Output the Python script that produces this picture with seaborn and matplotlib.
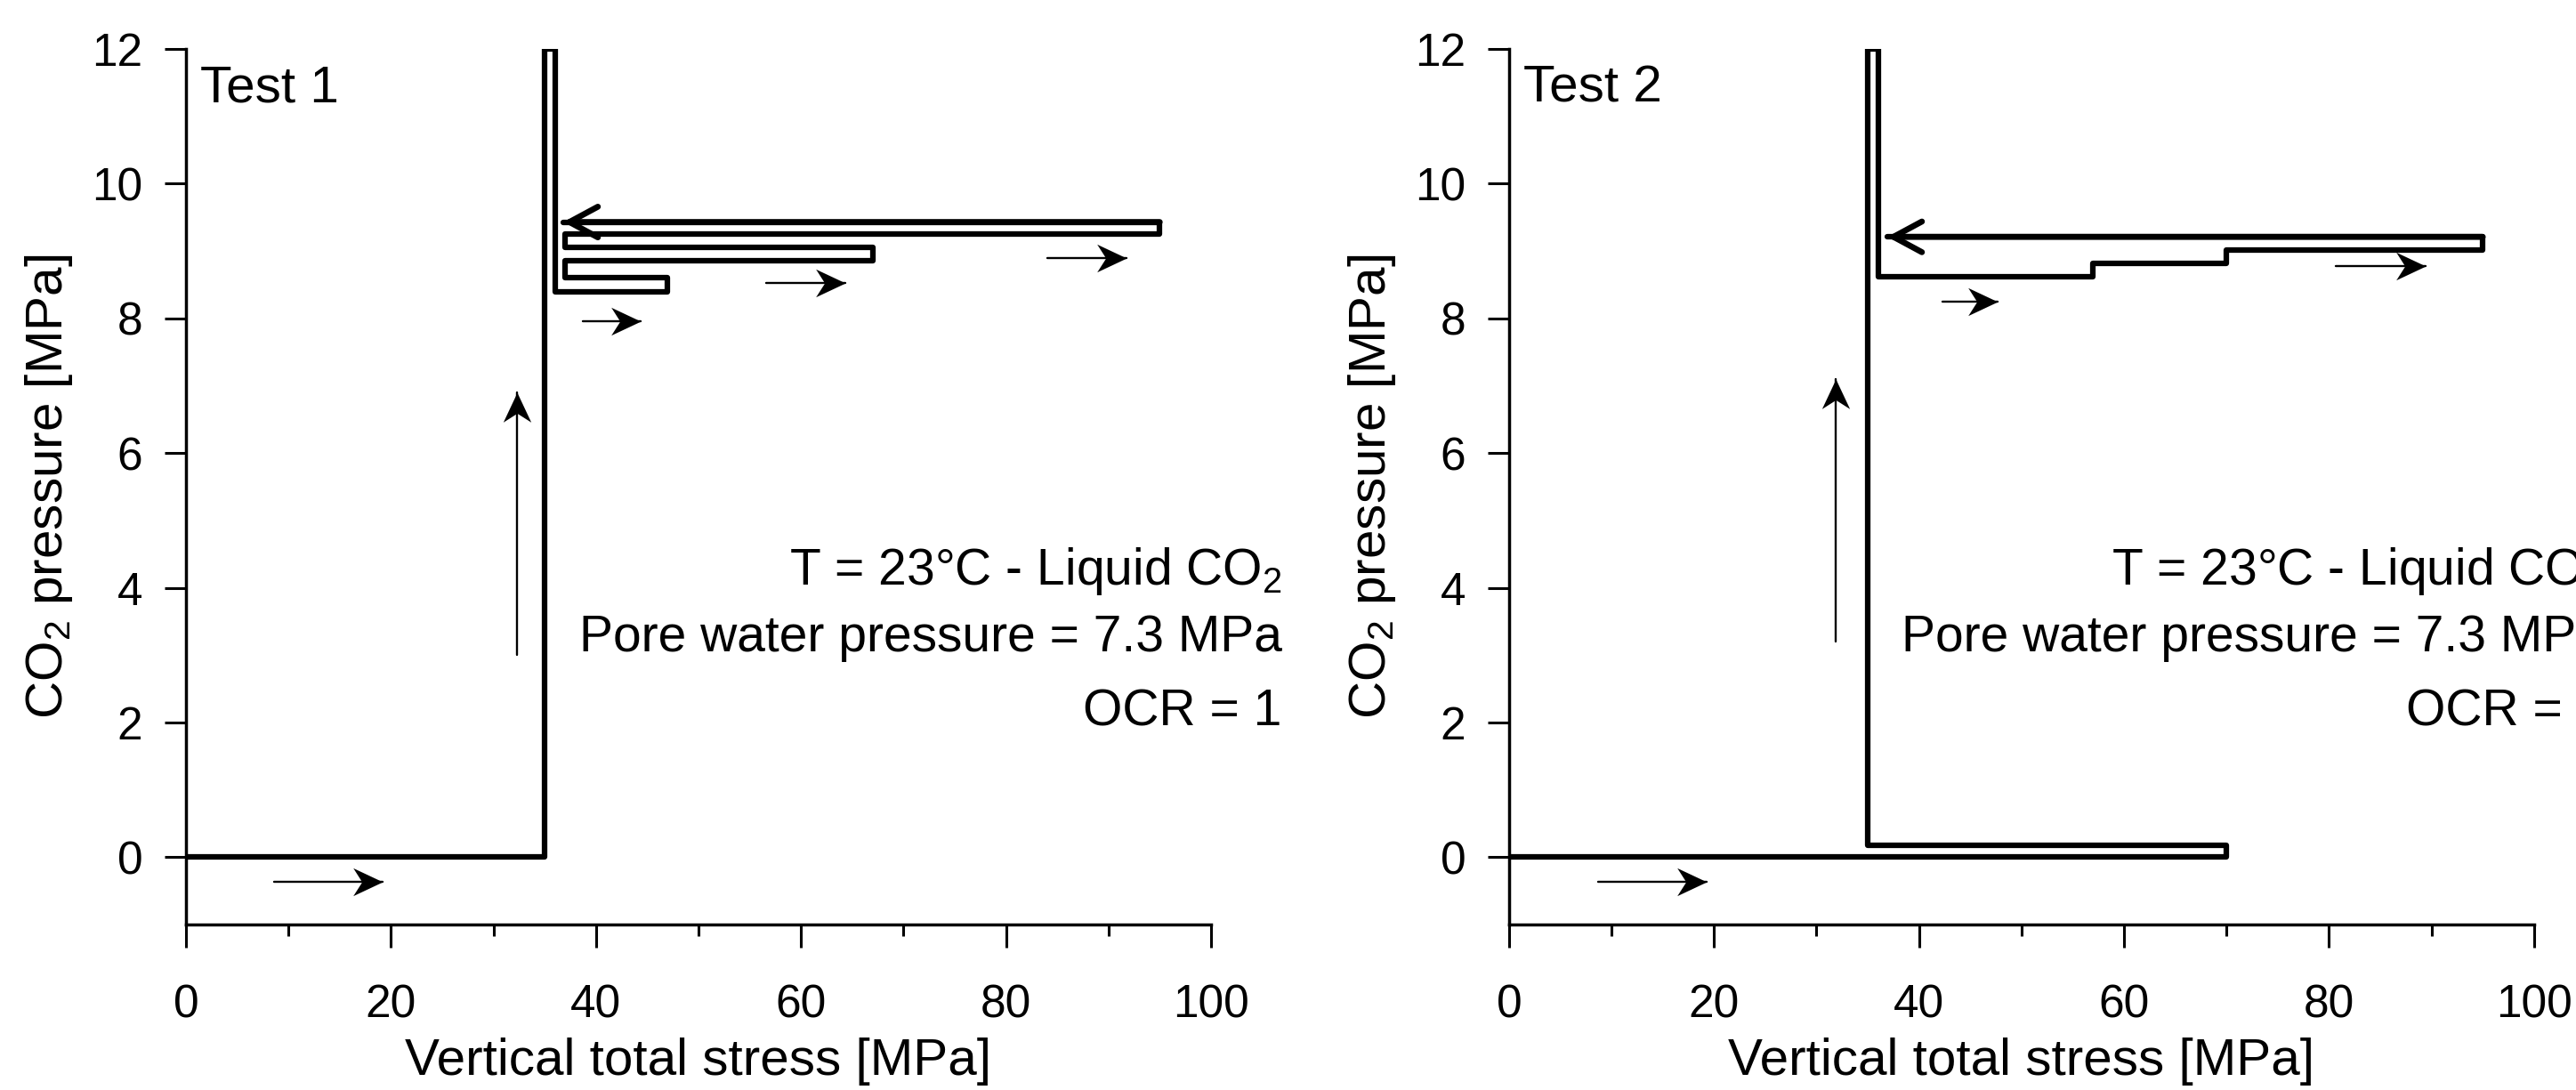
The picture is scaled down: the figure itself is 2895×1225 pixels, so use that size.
import numpy as np
import seaborn as sns
import matplotlib
matplotlib.use("Agg")
import matplotlib.pyplot as plt
from matplotlib.path import Path

# loading paths: vertical total stress [MPa] vs CO2 pressure [MPa]
stress_test1 = [0, 35, 35, 36, 36, 47, 47, 37, 37, 67, 67, 37, 37, 95, 95, 36.8]
pco2_test1 = [0, 0, 12, 12, 8.4, 8.4, 8.6, 8.6, 8.85, 8.85, 9.05, 9.05, 9.25, 9.25, 9.43, 9.43]

stress_test2 = [0, 70, 70, 35, 35, 36, 36, 57, 57, 70, 70, 95, 95, 36.9]
pco2_test2 = [0, 0, 0.17, 0.17, 12, 12, 8.62, 8.62, 8.81, 8.81, 9.01, 9.01, 9.21, 9.21]

# small direction arrows (x tail, y tail, x tip, y tip)
arrows_test1 = [(8.6, -0.36, 19.2, -0.36), (32.3, 3.0, 32.3, 6.9),
                (38.7, 7.96, 44.4, 7.96), (56.6, 8.52, 64.3, 8.52),
                (84.0, 8.89, 91.8, 8.89)]
arrows_test2 = [(8.7, -0.37, 19.3, -0.37), (31.9, 3.2, 31.9, 7.1),
                (42.3, 8.25, 47.7, 8.25), (80.7, 8.78, 89.4, 8.78)]

titles = ["Test 1", "Test 2"]
cond_lines = ["T = 23°C - Liquid CO$_2$", "Pore water pressure = 7.3 MPa"]
ocr_labels = ["OCR = 1", "OCR = 2"]

sns.set_style("ticks")
plt.rcParams['font.family'] = ['Liberation Sans', 'DejaVu Sans']
plt.rcParams['mathtext.fontset'] = 'custom'
plt.rcParams['mathtext.rm'] = 'Liberation Sans'
plt.rcParams['mathtext.it'] = 'Liberation Sans:italic'
plt.rcParams['mathtext.bf'] = 'Liberation Sans:bold'
plt.rcParams['axes.edgecolor'] = 'black'
plt.rcParams['axes.labelcolor'] = 'black'
plt.rcParams['text.color'] = 'black'
plt.rcParams['xtick.color'] = 'black'
plt.rcParams['ytick.color'] = 'black'


def head_marker(angle):
    # stealth-like arrow head, tip at origin, pointing along +x then rotated
    v = np.array([[0, 0], [-1, 0.47], [-0.7, 0], [-1, -0.47], [0, 0]])
    a = np.deg2rad(angle)
    rot = np.array([[np.cos(a), -np.sin(a)], [np.sin(a), np.cos(a)]])
    v = v @ rot.T
    return Path(v, [Path.MOVETO, Path.LINETO, Path.LINETO, Path.LINETO, Path.CLOSEPOLY])


fig = plt.figure(figsize=(28.95, 12.25), dpi=100)
ax1 = fig.add_axes([0.0722, 0.1518, 0.3979, 0.8033])
ax2 = fig.add_axes([0.5858, 0.1518, 0.3979, 0.8033])

panels = [(ax1, stress_test1, pco2_test1, arrows_test1),
          (ax2, stress_test2, pco2_test2, arrows_test2)]

for k, (ax, xs, ys, arrs) in enumerate(panels):
    sns.lineplot(x=xs, y=ys, sort=False, estimator=None, color='black', lw=4.5, ax=ax)
    # arrow head on last unloading segment
    ax.annotate('', xy=(xs[-1], ys[-1]), xytext=(xs[-2], ys[-2]),
                arrowprops=dict(arrowstyle='->,head_length=1.15,head_width=0.62',
                                lw=4.8, color='black', shrinkA=0, shrinkB=0,
                                mutation_scale=20))
    for x0, y0, x1, y1 in arrs:
        ax.plot([x0, x1], [y0, y1], color='black', lw=1.7)
        ang = 90 if x0 == x1 else 0
        ax.plot([x1], [y1], marker=head_marker(ang), ms=48, color='black', mew=0, ls='none')

    ax.set_xlim(0, 100)
    ax.set_ylim(-1, 12)
    ax.set_xticks(range(0, 101, 20))
    ax.set_xticks(range(10, 100, 20), minor=True)
    ax.set_yticks(range(0, 13, 2))
    sns.despine(ax=ax)
    for s in ['left', 'bottom']:
        ax.spines[s].set_linewidth(2.5)
    ax.tick_params(axis='x', which='major', length=19, width=2.2, pad=29, labelsize=37)
    ax.tick_params(axis='x', which='minor', length=9.5, width=2.2)
    ax.tick_params(axis='y', which='major', length=17, width=2.2, pad=18, labelsize=37)

    ax.set_xlabel("Vertical total stress [MPa]", fontsize=42, labelpad=8)
    ax.set_ylabel("CO$_2$ pressure [MPa]", fontsize=42, labelpad=14)

    ax.text(1.4, 11.22, titles[k], fontsize=42, va='baseline')
    ax.text(106.9, 4.05, cond_lines[0], fontsize=41, ha='right', va='baseline', clip_on=False)
    ax.text(106.9, 3.05, cond_lines[1], fontsize=41, ha='right', va='baseline', clip_on=False)
    ax.text(106.9, 1.95, ocr_labels[k], fontsize=41, ha='right', va='baseline', clip_on=False)

fig.savefig("out.png", dpi=100)
